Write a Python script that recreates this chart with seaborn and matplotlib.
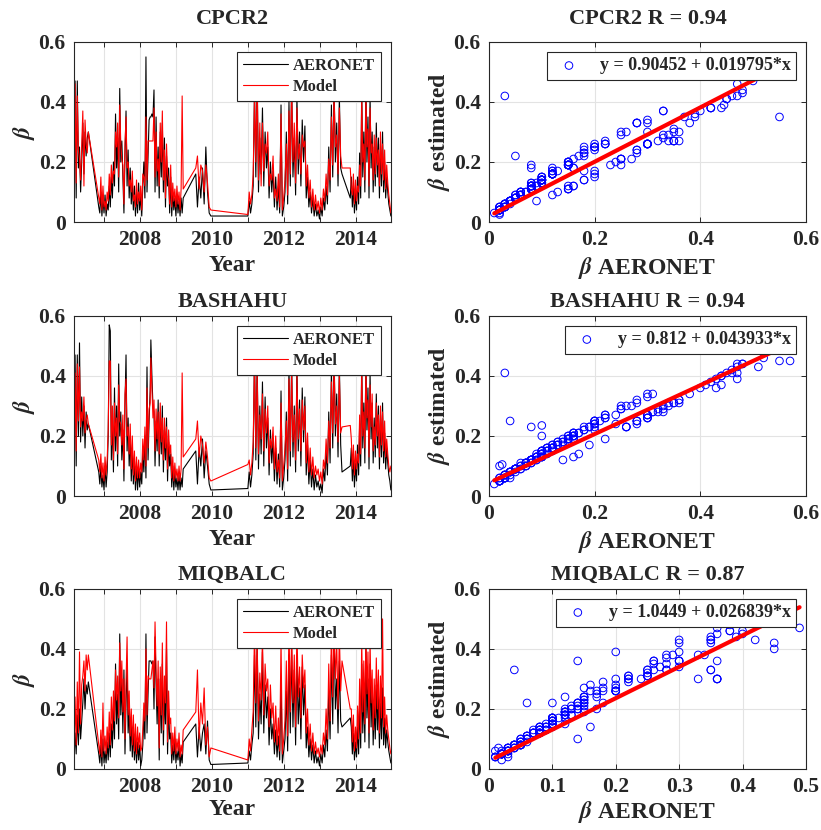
import numpy as np
import pandas as pd
import matplotlib
matplotlib.use("Agg")
import matplotlib.pyplot as plt
from matplotlib.ticker import FixedLocator, FixedFormatter
import seaborn as sns

# ---------------- data ----------------
stations = ["CPCR2", "BASHAHU", "MIQBALC"]
r_values = ["0.94", "0.94", "0.87"]
fit_slope = [0.90452, 0.812, 1.0449]
fit_intercept = [0.019795, 0.043933, 0.026839]
fit_labels = ["y = 0.90452 + 0.019795*x", "y = 0.812 + 0.043933*x", "y = 1.0449 + 0.026839*x"]

# observation periods (decimal year) and number of samples in each
seg_start = [2006.16, 2006.85, 2008.30, 2009.55, 2011.00, 2013.85]
seg_end = [2006.56, 2008.28, 2009.20, 2009.97, 2013.62, 2014.98]
seg_count = [14, 50, 32, 10, 72, 40]

cpcr2_aeronet = [
    0.03, 0.47, 0.08, 0.47, 0.18, 0.25, 0.10, 0.20, 0.33, 0.16, 0.30, 0.22, 0.28, 0.30,
    0.05, 0.03, 0.10, 0.02, 0.08, 0.03, 0.09, 0.02, 0.06, 0.04, 0.12, 0.05, 0.15, 0.08, 0.20, 0.12, 0.36, 0.18, 0.28, 0.10,
    0.445, 0.20, 0.27, 0.15, 0.03, 0.22, 0.37, 0.12, 0.24, 0.08, 0.18, 0.06, 0.13, 0.04, 0.12, 0.02, 0.10, 0.03, 0.13, 0.04,
    0.09, 0.02, 0.12, 0.20, 0.08, 0.55, 0.10, 0.22, 0.34, 0.35,
    0.35, 0.36, 0.35, 0.44, 0.10, 0.35, 0.12, 0.25, 0.08, 0.30, 0.15, 0.33, 0.10, 0.28, 0.05, 0.22, 0.12, 0.18, 0.03, 0.15,
    0.02, 0.10, 0.04, 0.08, 0.02, 0.09, 0.03, 0.07, 0.02, 0.08, 0.03, 0.08,
    0.16, 0.05, 0.15, 0.08, 0.18, 0.06, 0.25, 0.10, 0.03, 0.02,
    0.02, 0.07, 0.03, 0.06, 0.12, 0.45, 0.15, 0.50, 0.10, 0.28, 0.16, 0.38, 0.12, 0.30, 0.18, 0.25, 0.08, 0.20, 0.10, 0.17,
    0.05, 0.15, 0.04, 0.12, 0.03, 0.39, 0.02, 0.05, 0.10, 0.30, 0.06, 0.40, 0.12, 0.48, 0.15, 0.28, 0.09, 0.42, 0.16, 0.30,
    0.12, 0.34, 0.20, 0.32, 0.08, 0.15, 0.05, 0.10, 0.03, 0.08, 0.02, 0.06, 0.02, 0.04, 0.01, 0.05, 0.02, 0.08, 0.04, 0.12,
    0.06, 0.25, 0.10, 0.39, 0.15, 0.46, 0.20, 0.33, 0.12, 0.42, 0.18, 0.16,
    0.08, 0.15, 0.05, 0.12, 0.03, 0.10, 0.04, 0.15, 0.06, 0.23, 0.08, 0.45, 0.15, 0.30, 0.10, 0.48, 0.20, 0.35, 0.08, 0.42,
    0.18, 0.30, 0.10, 0.25, 0.12, 0.33, 0.15, 0.28, 0.08, 0.26, 0.12, 0.30, 0.10, 0.20, 0.08, 0.15, 0.10, 0.06, 0.04, 0.02,
]
cpcr2_model = [
    0.05, 0.46, 0.13, 0.42, 0.24, 0.21, 0.14, 0.25, 0.37, 0.12, 0.34, 0.26, 0.23, 0.30,
    0.08, 0.06, 0.15, 0.04, 0.12, 0.05, 0.07, 0.04, 0.10, 0.07, 0.16, 0.09, 0.19, 0.13, 0.17, 0.16, 0.30, 0.25, 0.33, 0.15,
    0.39, 0.26, 0.21, 0.19, 0.06, 0.26, 0.35, 0.18, 0.20, 0.12, 0.14, 0.10, 0.17, 0.07, 0.09, 0.05, 0.14, 0.06, 0.10, 0.07,
    0.12, 0.04, 0.16, 0.15, 0.12, 0.35, 0.14, 0.27, 0.27, 0.27,
    0.27, 0.27, 0.27, 0.38, 0.15, 0.30, 0.17, 0.21, 0.12, 0.33, 0.20, 0.37, 0.14, 0.24, 0.08, 0.26, 0.16, 0.14, 0.06, 0.19,
    0.05, 0.13, 0.07, 0.11, 0.05, 0.12, 0.06, 0.10, 0.04, 0.11, 0.42, 0.11,
    0.18, 0.22, 0.11, 0.19, 0.17, 0.10, 0.19, 0.13, 0.05, 0.04,
    0.025, 0.10, 0.06, 0.09, 0.16, 0.41, 0.20, 0.47, 0.14, 0.33, 0.12, 0.33, 0.17, 0.26, 0.23, 0.30, 0.12, 0.16, 0.14, 0.22,
    0.08, 0.11, 0.07, 0.16, 0.05, 0.36, 0.04, 0.08, 0.14, 0.26, 0.09, 0.37, 0.16, 0.44, 0.20, 0.33, 0.13, 0.38, 0.21, 0.26,
    0.16, 0.29, 0.25, 0.27, 0.12, 0.19, 0.08, 0.14, 0.05, 0.11, 0.04, 0.09, 0.04, 0.07, 0.03, 0.08, 0.04, 0.11, 0.07, 0.16,
    0.09, 0.21, 0.14, 0.35, 0.19, 0.42, 0.25, 0.29, 0.16, 0.38, 0.22, 0.18,
    0.18, 0.11, 0.09, 0.16, 0.06, 0.14, 0.07, 0.12, 0.10, 0.19, 0.12, 0.41, 0.20, 0.26, 0.14, 0.43, 0.25, 0.31, 0.12, 0.38,
    0.23, 0.26, 0.14, 0.29, 0.16, 0.28, 0.19, 0.24, 0.12, 0.30, 0.16, 0.26, 0.14, 0.24, 0.11, 0.19, 0.13, 0.09, 0.06, 0.03,
]

bashahu_aeronet = [
    0.03, 0.47, 0.10, 0.47, 0.20, 0.51, 0.18, 0.33, 0.20, 0.30, 0.16, 0.28, 0.22, 0.24,
    0.08, 0.04, 0.10, 0.03, 0.07, 0.02, 0.10, 0.03, 0.08, 0.20, 0.57, 0.55, 0.12, 0.25, 0.08, 0.36, 0.15, 0.30, 0.10, 0.44,
    0.20, 0.28, 0.12, 0.22, 0.05, 0.30, 0.47, 0.15, 0.26, 0.10, 0.20, 0.05, 0.16, 0.04, 0.12, 0.02, 0.10, 0.02, 0.09, 0.03,
    0.08, 0.04, 0.15, 0.08, 0.20, 0.06, 0.43, 0.12, 0.25, 0.35,
    0.52, 0.40, 0.30, 0.28, 0.10, 0.25, 0.15, 0.32, 0.10, 0.28, 0.14, 0.30, 0.08, 0.22, 0.12, 0.26, 0.05, 0.18, 0.10, 0.14,
    0.03, 0.10, 0.02, 0.08, 0.03, 0.06, 0.02, 0.07, 0.02, 0.06, 0.03, 0.09,
    0.15, 0.04, 0.16, 0.10, 0.19, 0.06, 0.15, 0.10, 0.04, 0.02,
    0.025, 0.08, 0.03, 0.07, 0.14, 0.48, 0.12, 0.45, 0.09, 0.30, 0.14, 0.38, 0.10, 0.33, 0.16, 0.26, 0.07, 0.22, 0.11, 0.19,
    0.05, 0.16, 0.04, 0.14, 0.03, 0.35, 0.02, 0.06, 0.12, 0.28, 0.05, 0.43, 0.10, 0.46, 0.13, 0.30, 0.08, 0.44, 0.15, 0.32,
    0.10, 0.36, 0.18, 0.33, 0.07, 0.17, 0.04, 0.12, 0.03, 0.09, 0.02, 0.07, 0.03, 0.05, 0.02, 0.04, 0.01, 0.09, 0.05, 0.15,
    0.07, 0.28, 0.11, 0.42, 0.16, 0.48, 0.20, 0.34, 0.13, 0.44, 0.17, 0.08,
    0.10, 0.16, 0.05, 0.13, 0.03, 0.11, 0.05, 0.17, 0.07, 0.24, 0.10, 0.46, 0.16, 0.31, 0.11, 0.47, 0.22, 0.36, 0.09, 0.41,
    0.19, 0.31, 0.11, 0.26, 0.13, 0.34, 0.16, 0.30, 0.09, 0.27, 0.13, 0.31, 0.11, 0.21, 0.09, 0.16, 0.11, 0.07, 0.05, 0.02,
]
bashahu_model = [
    0.06, 0.41, 0.15, 0.44, 0.25, 0.43, 0.23, 0.28, 0.25, 0.33, 0.21, 0.25, 0.27, 0.24,
    0.12, 0.08, 0.14, 0.06, 0.11, 0.05, 0.13, 0.07, 0.12, 0.22, 0.45, 0.45, 0.17, 0.30, 0.12, 0.31, 0.20, 0.26, 0.14, 0.37,
    0.25, 0.24, 0.17, 0.27, 0.09, 0.34, 0.39, 0.20, 0.23, 0.14, 0.24, 0.09, 0.20, 0.07, 0.15, 0.05, 0.13, 0.06, 0.12, 0.06,
    0.11, 0.08, 0.19, 0.12, 0.23, 0.10, 0.36, 0.16, 0.29, 0.31,
    0.46, 0.36, 0.26, 0.32, 0.15, 0.29, 0.19, 0.28, 0.14, 0.31, 0.18, 0.26, 0.12, 0.26, 0.16, 0.23, 0.09, 0.22, 0.14, 0.17,
    0.06, 0.13, 0.05, 0.11, 0.06, 0.09, 0.05, 0.10, 0.05, 0.09, 0.41, 0.13,
    0.19, 0.25, 0.13, 0.20, 0.17, 0.11, 0.18, 0.13, 0.06, 0.05,
    0.105, 0.12, 0.07, 0.11, 0.18, 0.44, 0.16, 0.41, 0.14, 0.27, 0.19, 0.34, 0.15, 0.29, 0.21, 0.30, 0.11, 0.19, 0.16, 0.23,
    0.09, 0.20, 0.08, 0.12, 0.06, 0.31, 0.05, 0.10, 0.16, 0.25, 0.09, 0.39, 0.15, 0.41, 0.18, 0.27, 0.12, 0.40, 0.19, 0.29,
    0.15, 0.32, 0.22, 0.30, 0.11, 0.21, 0.08, 0.16, 0.07, 0.13, 0.06, 0.10, 0.07, 0.09, 0.05, 0.08, 0.04, 0.12, 0.09, 0.19,
    0.11, 0.25, 0.16, 0.38, 0.21, 0.44, 0.24, 0.30, 0.18, 0.40, 0.21, 0.23,
    0.235, 0.19, 0.09, 0.17, 0.07, 0.15, 0.09, 0.14, 0.11, 0.27, 0.14, 0.42, 0.20, 0.28, 0.16, 0.43, 0.26, 0.32, 0.13, 0.37,
    0.23, 0.34, 0.15, 0.23, 0.17, 0.31, 0.20, 0.27, 0.13, 0.30, 0.17, 0.28, 0.15, 0.25, 0.13, 0.19, 0.14, 0.10, 0.08, 0.10,
]

miqbalc_aeronet = [
    0.03, 0.12, 0.05, 0.18, 0.08, 0.20, 0.10, 0.16, 0.22, 0.30, 0.20, 0.28, 0.25, 0.29,
    0.05, 0.02, 0.08, 0.01, 0.10, 0.02, 0.06, 0.02, 0.09, 0.03, 0.12, 0.04, 0.15, 0.07, 0.20, 0.10, 0.35, 0.15, 0.25, 0.10,
    0.45, 0.18, 0.30, 0.12, 0.33, 0.05, 0.22, 0.35, 0.12, 0.20, 0.06, 0.15, 0.04, 0.13, 0.03, 0.10, 0.02, 0.09, 0.03, 0.08,
    0.01, 0.03, 0.08, 0.18, 0.10, 0.45, 0.12, 0.25, 0.36, 0.36,
    0.36, 0.35, 0.36, 0.20, 0.44, 0.28, 0.15, 0.30, 0.03, 0.30, 0.12, 0.35, 0.08, 0.25, 0.15, 0.40, 0.05, 0.20, 0.10, 0.12,
    0.02, 0.08, 0.03, 0.10, 0.02, 0.06, 0.03, 0.08, 0.01, 0.05, 0.02, 0.09,
    0.15, 0.04, 0.14, 0.06, 0.12, 0.15, 0.05, 0.16, 0.03, 0.015,
    0.02, 0.06, 0.03, 0.08, 0.12, 0.38, 0.14, 0.42, 0.10, 0.25, 0.15, 0.39, 0.12, 0.28, 0.17, 0.24, 0.08, 0.20, 0.10, 0.15,
    0.05, 0.13, 0.04, 0.11, 0.03, 0.30, 0.02, 0.06, 0.10, 0.26, 0.06, 0.38, 0.12, 0.40, 0.14, 0.33, 0.08, 0.36, 0.15, 0.27,
    0.10, 0.34, 0.18, 0.28, 0.07, 0.14, 0.04, 0.10, 0.03, 0.08, 0.02, 0.06, 0.02, 0.04, 0.01, 0.05, 0.02, 0.08, 0.04, 0.13,
    0.06, 0.26, 0.10, 0.38, 0.15, 0.49, 0.20, 0.30, 0.12, 0.36, 0.16, 0.14,
    0.17, 0.14, 0.05, 0.12, 0.03, 0.09, 0.04, 0.14, 0.05, 0.22, 0.07, 0.35, 0.12, 0.26, 0.09, 0.40, 0.17, 0.30, 0.07, 0.35,
    0.14, 0.26, 0.08, 0.22, 0.10, 0.28, 0.13, 0.25, 0.07, 0.22, 0.10, 0.27, 0.08, 0.17, 0.07, 0.13, 0.09, 0.06, 0.04, 0.02,
]
miqbalc_model = [
    0.05, 0.24, 0.08, 0.29, 0.12, 0.39, 0.15, 0.28, 0.31, 0.36, 0.26, 0.38, 0.33, 0.38,
    0.08, 0.05, 0.13, 0.04, 0.22, 0.06, 0.11, 0.05, 0.14, 0.07, 0.19, 0.08, 0.24, 0.13, 0.26, 0.16, 0.33, 0.23, 0.31, 0.17,
    0.42, 0.26, 0.36, 0.19, 0.30, 0.10, 0.29, 0.44, 0.18, 0.26, 0.11, 0.20, 0.08, 0.18, 0.06, 0.15, 0.05, 0.14, 0.07, 0.12,
    0.06, 0.07, 0.13, 0.22, 0.16, 0.40, 0.18, 0.31, 0.30, 0.30,
    0.30, 0.33, 0.36, 0.27, 0.49, 0.33, 0.21, 0.36, 0.07, 0.34, 0.18, 0.42, 0.13, 0.31, 0.22, 0.49, 0.09, 0.26, 0.15, 0.17,
    0.05, 0.12, 0.06, 0.14, 0.05, 0.10, 0.06, 0.12, 0.04, 0.08, 0.05, 0.13,
    0.19, 0.33, 0.10, 0.22, 0.15, 0.27, 0.08, 0.14, 0.04, 0.07,
    0.03, 0.10, 0.06, 0.13, 0.19, 0.46, 0.22, 0.43, 0.16, 0.32, 0.23, 0.44, 0.18, 0.35, 0.26, 0.30, 0.14, 0.28, 0.17, 0.22,
    0.09, 0.21, 0.08, 0.17, 0.06, 0.43, 0.05, 0.10, 0.16, 0.36, 0.11, 0.48, 0.19, 0.45, 0.22, 0.38, 0.14, 0.47, 0.24, 0.34,
    0.17, 0.38, 0.27, 0.33, 0.12, 0.20, 0.08, 0.15, 0.06, 0.12, 0.05, 0.09, 0.05, 0.07, 0.04, 0.08, 0.05, 0.12, 0.08, 0.20,
    0.10, 0.35, 0.16, 0.46, 0.24, 0.47, 0.30, 0.42, 0.20, 0.45, 0.26, 0.36,
    0.20, 0.20, 0.09, 0.18, 0.06, 0.14, 0.07, 0.21, 0.10, 0.30, 0.12, 0.43, 0.19, 0.36, 0.15, 0.46, 0.25, 0.39, 0.12, 0.43,
    0.22, 0.33, 0.13, 0.30, 0.17, 0.37, 0.20, 0.33, 0.12, 0.31, 0.17, 0.50, 0.14, 0.24, 0.12, 0.18, 0.13, 0.10, 0.07, 0.05,
]

aeronet_series = [cpcr2_aeronet, bashahu_aeronet, miqbalc_aeronet]
model_series = [cpcr2_model, bashahu_model, miqbalc_model]

year_ticks = [2007, 2008, 2009, 2010, 2011, 2012, 2013, 2014]
year_tick_labels = ["", "2008", "", "2010", "", "2012", "", "2014"]
beta_ticks = [0, 0.2, 0.4, 0.6]
beta_tick_labels = ["0", "0.2", "0.4", "0.6"]
scatter_x_ticks = [[0, 0.2, 0.4, 0.6], [0, 0.2, 0.4, 0.6], [0, 0.1, 0.2, 0.3, 0.4, 0.5]]
scatter_x_labels = [["0", "0.2", "0.4", "0.6"], ["0", "0.2", "0.4", "0.6"],
                    ["0", "0.1", "0.2", "0.3", "0.4", "0.5"]]
scatter_x_max = [0.6, 0.6, 0.5]

# sample dates inside each observation period
dates = np.concatenate([np.linspace(s, e, n) for s, e, n in zip(seg_start, seg_end, seg_count)])
for a, m in zip(aeronet_series, model_series):
    assert len(a) == len(dates) and len(m) == len(dates), (len(a), len(m), len(dates))

# ---------------- style ----------------
sns.set_theme(style="whitegrid")
plt.rcParams.update({
    "font.family": ["Liberation Serif", "DejaVu Serif"],
    "font.weight": "bold",
    "axes.labelweight": "bold",
    "axes.titleweight": "bold",
    "mathtext.fontset": "stix",
    "axes.edgecolor": "#262626",
    "axes.linewidth": 0.8,
    "grid.color": "#e3e3e3",
    "grid.linewidth": 0.8,
    "axes.facecolor": "white",
    "xtick.color": "#262626",
    "ytick.color": "#262626",
    "text.color": "#262626",
    "axes.labelcolor": "#262626",
})

fig = plt.figure(figsize=(8.21, 8.30), dpi=100)
row_bottom = [0.7325, 0.4024, 0.0735]
row_h = 0.217
col_left = [0.0901, 0.5956]
col_w = 0.386
title_pad = [13, 6.5, 6.5]
xlabel_pad = [3, 3, 1]

TICK = 15.5
LAB = 17
TIT = 16


def style_axes(ax):
    for sp in ax.spines.values():
        sp.set_visible(True)
        sp.set_color("#262626")
        sp.set_linewidth(0.8)
    ax.tick_params(axis="both", which="both", direction="in", length=3.5, width=0.7,
                   top=True, right=True, bottom=True, left=True, labelsize=TICK)
    ax.tick_params(axis="x", pad=6)
    ax.tick_params(axis="y", pad=6)
    for lab in ax.get_xticklabels() + ax.get_yticklabels():
        lab.set_fontweight("bold")
    ax.grid(True, color="#e3e3e3", linewidth=0.8)
    ax.set_axisbelow(True)


for i, st in enumerate(stations):
    aer = np.array(aeronet_series[i])
    mod = np.array(model_series[i])
    df = pd.DataFrame({"date": dates, "AERONET": aer, "Model": mod})

    # ---- time series ----
    ax = fig.add_axes([col_left[0], row_bottom[i], col_w, row_h])
    sns.lineplot(data=df, x="date", y="AERONET", ax=ax, color="black", linewidth=0.8,
                 label="AERONET", sort=False, estimator=None)
    sns.lineplot(data=df, x="date", y="Model", ax=ax, color="red", linewidth=0.8,
                 label="Model", sort=False, estimator=None)
    ax.set_xlim(2006.16, 2014.98)
    ax.set_ylim(0, 0.6)
    ax.xaxis.set_major_locator(FixedLocator(year_ticks))
    ax.xaxis.set_major_formatter(FixedFormatter(year_tick_labels))
    ax.yaxis.set_major_locator(FixedLocator(beta_ticks))
    ax.yaxis.set_major_formatter(FixedFormatter(beta_tick_labels))
    style_axes(ax)
    ax.set_xlabel("Year", fontsize=LAB, fontweight="bold", labelpad=xlabel_pad[i])
    ax.set_ylabel(r"$\beta$", fontsize=LAB, labelpad=1)
    ax.set_title(st, fontsize=TIT, fontweight="bold", pad=title_pad[i])
    leg = ax.legend(loc="upper right", fontsize=12, frameon=True, fancybox=False,
                    framealpha=1, edgecolor="#262626", handlelength=2.7, handletextpad=0.3,
                    borderpad=0.35, labelspacing=0.3, borderaxespad=0.6)
    leg.get_frame().set_linewidth(0.8)
    for t in leg.get_texts():
        t.set_fontweight("bold")

    # ---- scatter ----
    ax2 = fig.add_axes([col_left[1], row_bottom[i], col_w, row_h])
    sns.scatterplot(x=aer, y=mod, ax=ax2, marker="o", s=30, facecolors="none",
                    edgecolor="blue", linewidth=0.7, label=fit_labels[i], zorder=3)
    xs = np.array([aer.min(), aer.max()])
    ax2.plot(xs, fit_slope[i] * xs + fit_intercept[i], color="red", linewidth=3, zorder=4)
    ax2.set_xlim(0, scatter_x_max[i])
    ax2.set_ylim(0, 0.6)
    ax2.xaxis.set_major_locator(FixedLocator(scatter_x_ticks[i]))
    ax2.xaxis.set_major_formatter(FixedFormatter(scatter_x_labels[i]))
    ax2.yaxis.set_major_locator(FixedLocator(beta_ticks))
    ax2.yaxis.set_major_formatter(FixedFormatter(beta_tick_labels))
    style_axes(ax2)
    ax2.set_xlabel(r"$\beta$ AERONET", fontsize=LAB, fontweight="bold", labelpad=xlabel_pad[i])
    ax2.set_ylabel(r"$\beta$ estimated", fontsize=LAB, fontweight="bold", labelpad=1)
    ax2.set_title(f"{st} R = {r_values[i]}", fontsize=TIT, fontweight="bold", pad=title_pad[i])
    leg2 = ax2.legend(loc="upper right", fontsize=13, frameon=True, fancybox=False,
                      framealpha=1, edgecolor="#262626", handlelength=1.8, handletextpad=0.8,
                      borderpad=0.3, borderaxespad=0.55)
    leg2.get_frame().set_linewidth(0.8)
    leg2.set_zorder(10)
    for t in leg2.get_texts():
        t.set_fontweight("bold")

fig.savefig("out.png", dpi=100, facecolor="white")
